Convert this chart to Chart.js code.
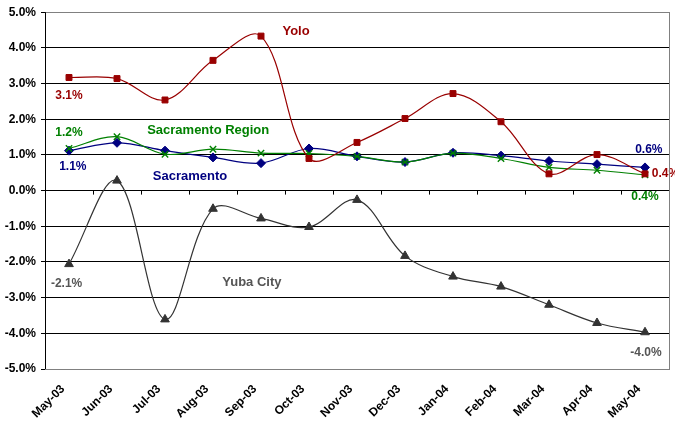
<!DOCTYPE html>
<html>
<head>
<meta charset="utf-8">
<script src="https://cdn.jsdelivr.net/npm/chart.js@4.4.1/dist/chart.umd.min.js"></script>
<style>
html,body{margin:0;padding:0;background:#fff;}
#wrap{width:675px;height:422px;position:relative;}
</style>
</head>
<body>
<div id="wrap"><canvas id="c" width="675" height="422"></canvas></div>
<script>
const months = ['May-03','Jun-03','Jul-03','Aug-03','Sep-03','Oct-03','Nov-03','Dec-03','Jan-04','Feb-04','Mar-04','Apr-04','May-04'];
const yolo = [3.17,3.14,2.54,3.65,4.33,0.90,1.35,2.02,2.72,1.93,0.47,1.01,0.47];
const sacramento = [1.12,1.34,1.12,0.93,0.77,1.18,0.96,0.80,1.06,0.98,0.83,0.74,0.65];
const sacRegion = [1.18,1.51,1.02,1.16,1.05,1.04,0.96,0.80,1.05,0.90,0.65,0.57,0.44];
const yubaCity = [-2.06,0.28,-3.61,-0.51,-0.78,-1.02,-0.26,-1.83,-2.41,-2.69,-3.20,-3.71,-3.97];
const yTicks = [-5,-4,-3,-2,-1,0,1,2,3,4,5];

const RED = '#990000', NAVY = '#000080', GREEN = '#008000', GRAY = '#333333';

// text annotations anchored in data coordinates (category index, value)
const notes = [
  {text:'Yolo', x:4.73, y:4.47, color:RED, size:13, align:'center'},
  {text:'Sacramento Region', x:2.9, y:1.70, color:GREEN, size:13, align:'center'},
  {text:'Sacramento', x:2.52, y:0.41, color:NAVY, size:13, align:'center'},
  {text:'Yuba City', x:3.81, y:-2.56, color:'#555555', size:13, align:'center'},
  {text:'3.1%', x:0, y:2.67, color:RED, size:12, align:'center'},
  {text:'1.2%', x:0, y:1.63, color:GREEN, size:12, align:'center'},
  {text:'1.1%', x:0.08, y:0.67, color:NAVY, size:12, align:'center'},
  {text:'-2.1%', x:-0.05, y:-2.6, color:'#555555', size:12, align:'center'},
  {text:'0.6%', x:12.08, y:1.14, color:NAVY, size:12, align:'center'},
  {text:'0.4%', x:12.14, y:0.47, color:RED, size:12, align:'left'},
  {text:'0.4%', x:12, y:-0.17, color:GREEN, size:12, align:'center'},
  {text:'-4.0%', x:12.02, y:-4.54, color:'#555555', size:12, align:'center'}
];

const extras = {
  id:'extras',
  afterDraw(chart){
    const ctx = chart.ctx, xs = chart.scales.x, ys = chart.scales.y, a = chart.chartArea;
    ctx.save();
    const y0 = ys.getPixelForValue(0);
    ctx.strokeStyle = '#000'; ctx.lineWidth = 1;
    for (let i = 0; i <= months.length; i++) {
      const x = Math.round(xs.getPixelForValue(i - 0.5)) + 0.5;
      ctx.beginPath(); ctx.moveTo(x, y0); ctx.lineTo(x, y0 + 4); ctx.stroke();
    }
    ctx.strokeStyle = '#808080';
    ctx.strokeRect(Math.round(a.left)+0.5, Math.round(a.top)+0.5, Math.round(a.right-a.left), Math.round(a.bottom-a.top));
    ctx.strokeStyle = '#000';
    ctx.beginPath(); ctx.moveTo(Math.round(a.left)+0.5, a.top); ctx.lineTo(Math.round(a.left)+0.5, a.bottom); ctx.stroke();
    ctx.restore();
  },
  afterDatasetsDraw(chart){
    const ctx = chart.ctx, xs = chart.scales.x, ys = chart.scales.y;
    ctx.save();
    ctx.textBaseline = 'middle';
    notes.forEach(n => {
      ctx.font = 'bold ' + n.size + 'px "Liberation Sans", Arial, sans-serif';
      ctx.fillStyle = n.color;
      ctx.textAlign = n.align;
      ctx.fillText(n.text, xs.getPixelForValue(n.x), ys.getPixelForValue(n.y));
    });
    ctx.restore();
  }
};

const common = {borderWidth:1.2, pointBorderWidth:1, tension:0.35, fill:false, clip:false};

new Chart(document.getElementById('c'), {
  type:'line',
  data:{
    labels: months,
    datasets:[
      Object.assign({label:'Yolo', data:yolo, borderColor:RED, backgroundColor:RED, pointStyle:'rect', pointRadius:4.2, order:1}, common),
      Object.assign({label:'Sacramento Region', data:sacRegion, borderColor:GREEN, backgroundColor:GREEN, pointStyle:'crossRot', pointRadius:4.5, order:2}, common, {pointBorderWidth:1.4}),
      Object.assign({label:'Sacramento', data:sacramento, borderColor:NAVY, backgroundColor:NAVY, pointStyle:'rectRot', pointRadius:4.5, order:3}, common),
      Object.assign({label:'Yuba City', data:yubaCity, borderColor:GRAY, backgroundColor:GRAY, pointStyle:'triangle', pointRadius:5, order:4}, common)
    ]
  },
  options:{
    responsive:false,
    animation:false,
    devicePixelRatio:1,
    layout:{padding:{top:12, right:5, left:0, bottom:0}},
    plugins:{legend:{display:false}, tooltip:{enabled:false}},
    scales:{
      x:{
        offset:true,
        grid:{display:false, drawTicks:false},
        border:{display:false},
        ticks:{
          autoSkip:false, maxRotation:45, minRotation:45, padding:13, labelOffset:-6,
          color:'#000',
          font:{family:'"Liberation Sans", Arial, sans-serif', size:12, weight:'bold'}
        },
        afterFit(s){ s.height = 53; }
      },
      y:{
        min:-5, max:5,
        afterBuildTicks(s){ s.ticks = yTicks.map(v => ({value:v})); },
        grid:{color:'#000', lineWidth:1, tickLength:4, drawTicks:true},
        border:{display:false},
        ticks:{
          color:'#000', padding:5,
          font:{family:'"Liberation Sans", Arial, sans-serif', size:12, weight:'bold'},
          callback:v => v.toFixed(1) + '%'
        },
        afterFit(s){ s.width = 45; }
      }
    }
  },
  plugins:[extras]
});
</script>
</body>
</html>
